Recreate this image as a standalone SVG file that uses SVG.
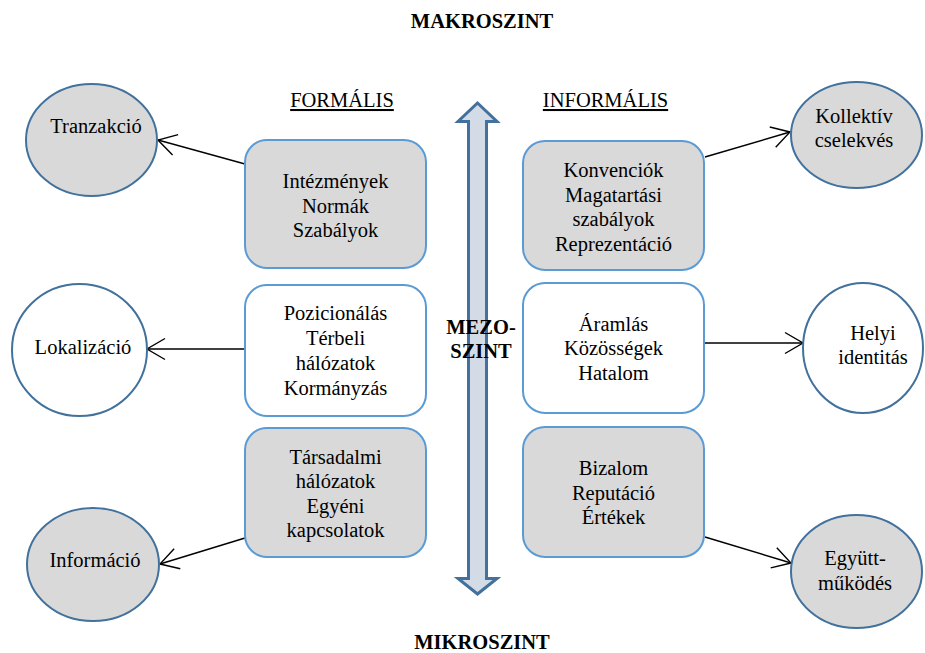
<svg xmlns="http://www.w3.org/2000/svg" width="925" height="653" viewBox="0 0 925 653">
<style>
text{font-family:'Liberation Serif','Times New Roman','DejaVu Serif',serif;font-size:20.5px;fill:#000;text-anchor:middle}
.b{font-weight:bold}
.u{text-decoration:underline}
.box{stroke:#5b9bd5;stroke-width:2}
.g{fill:#d9d9d9}
.w{fill:#fff}
.ell{stroke:#41719c;stroke-width:2}
.con{stroke:#000;stroke-width:1.4;fill:none}
</style>
<defs>
<marker id="ah" viewBox="-20 -12 22 24" markerWidth="22" markerHeight="24" refX="0" refY="0" orient="auto" markerUnits="userSpaceOnUse">
<path d="M-18,-10.5 L0,0 L-18,10.5" fill="none" stroke="#000" stroke-width="1.4"/>
</marker>
</defs>
<rect width="925" height="653" fill="#fff"/>
<g font-family="Liberation Serif, serif">
<text class="b" x="482" y="28">MAKROSZINT</text>
<text class="b" x="482" y="649">MIKROSZINT</text>
<text class="u" x="342" y="107">FORMÁLIS</text>
<text class="u" x="605.5" y="107">INFORMÁLIS</text>
</g>
<g id="arrow">
<polygon points="477.5,103 497,121.5 486.5,121.5 486.5,578.5 497,578.5 477.5,594 458,578.5 468.5,578.5 468.5,121.5 458,121.5" fill="#d3dbe6" stroke="#41719c" stroke-width="3" stroke-linejoin="miter"/>
</g>
<g id="mezo">
<text class="b" x="481" y="334">MEZO-</text>
<text class="b" x="481" y="358">SZINT</text>
</g>
<g id="connectors">
<line class="con" x1="245" y1="164" x2="158" y2="140" marker-end="url(#ah)"/>
<line class="con" x1="245" y1="349" x2="147" y2="349" marker-end="url(#ah)"/>
<line class="con" x1="245" y1="538" x2="160" y2="564" marker-end="url(#ah)"/>
<line class="con" x1="705" y1="157" x2="790" y2="132" marker-end="url(#ah)"/>
<line class="con" x1="705" y1="343" x2="803" y2="343" marker-end="url(#ah)"/>
<line class="con" x1="705" y1="537" x2="791" y2="563" marker-end="url(#ah)"/>
</g>
<g id="box-intezmenyek">
<rect class="box g" x="245" y="140" width="181" height="128" rx="22"/>
<text x="335.5" y="188">Intézmények</text>
<text x="335.5" y="212.5">Normák</text>
<text x="335.5" y="237">Szabályok</text>
</g>
<g id="box-pozicionalas">
<rect class="box w" x="245" y="285" width="181" height="131" rx="22"/>
<text x="335.5" y="320">Pozicionálás</text>
<text x="335.5" y="345">Térbeli</text>
<text x="335.5" y="370">hálózatok</text>
<text x="335.5" y="394.5">Kormányzás</text>
</g>
<g id="box-tarsadalmi">
<rect class="box g" x="245" y="428" width="181" height="129" rx="22"/>
<text x="335.5" y="463.5">Társadalmi</text>
<text x="335.5" y="488">hálózatok</text>
<text x="335.5" y="512.5">Egyéni</text>
<text x="335.5" y="537">kapcsolatok</text>
</g>
<g id="box-konvenciok">
<rect class="box g" x="523" y="141" width="181" height="129" rx="22"/>
<text x="613.5" y="177">Konvenciók</text>
<text x="613.5" y="201.5">Magatartási</text>
<text x="613.5" y="226">szabályok</text>
<text x="613.5" y="250.5">Reprezentáció</text>
</g>
<g id="box-aramlas">
<rect class="box w" x="523" y="283" width="181" height="130" rx="22"/>
<text x="613.5" y="330.5">Áramlás</text>
<text x="613.5" y="355">Közösségek</text>
<text x="613.5" y="379.5">Hatalom</text>
</g>
<g id="box-bizalom">
<rect class="box g" x="523" y="427" width="181" height="130" rx="22"/>
<text x="613.5" y="475">Bizalom</text>
<text x="613.5" y="499.5">Reputáció</text>
<text x="613.5" y="524">Értékek</text>
</g>
<g id="ell-tranzakcio">
<ellipse class="ell g" cx="91.5" cy="140" rx="65.5" ry="56"/>
<text x="96" y="133">Tranzakció</text>
</g>
<g id="ell-lokalizacio">
<ellipse class="ell w" cx="79.5" cy="350" rx="67.5" ry="66"/>
<text x="83" y="354">Lokalizáció</text>
</g>
<g id="ell-informacio">
<ellipse class="ell g" cx="93" cy="564.5" rx="66" ry="56.5"/>
<text x="95" y="567">Információ</text>
</g>
<g id="ell-kollektiv">
<ellipse class="ell g" cx="856.5" cy="135" rx="65.5" ry="53"/>
<text x="854" y="123">Kollektív</text>
<text x="854" y="147">cselekvés</text>
</g>
<g id="ell-helyi">
<ellipse class="ell w" cx="863" cy="348" rx="60" ry="65"/>
<text x="873" y="340">Helyi</text>
<text x="873" y="364">identitás</text>
</g>
<g id="ell-egyutt">
<ellipse class="ell g" cx="856.5" cy="571.5" rx="65.5" ry="56.5"/>
<text x="855" y="565">Együtt-</text>
<text x="855" y="590">működés</text>
</g>
</svg>
